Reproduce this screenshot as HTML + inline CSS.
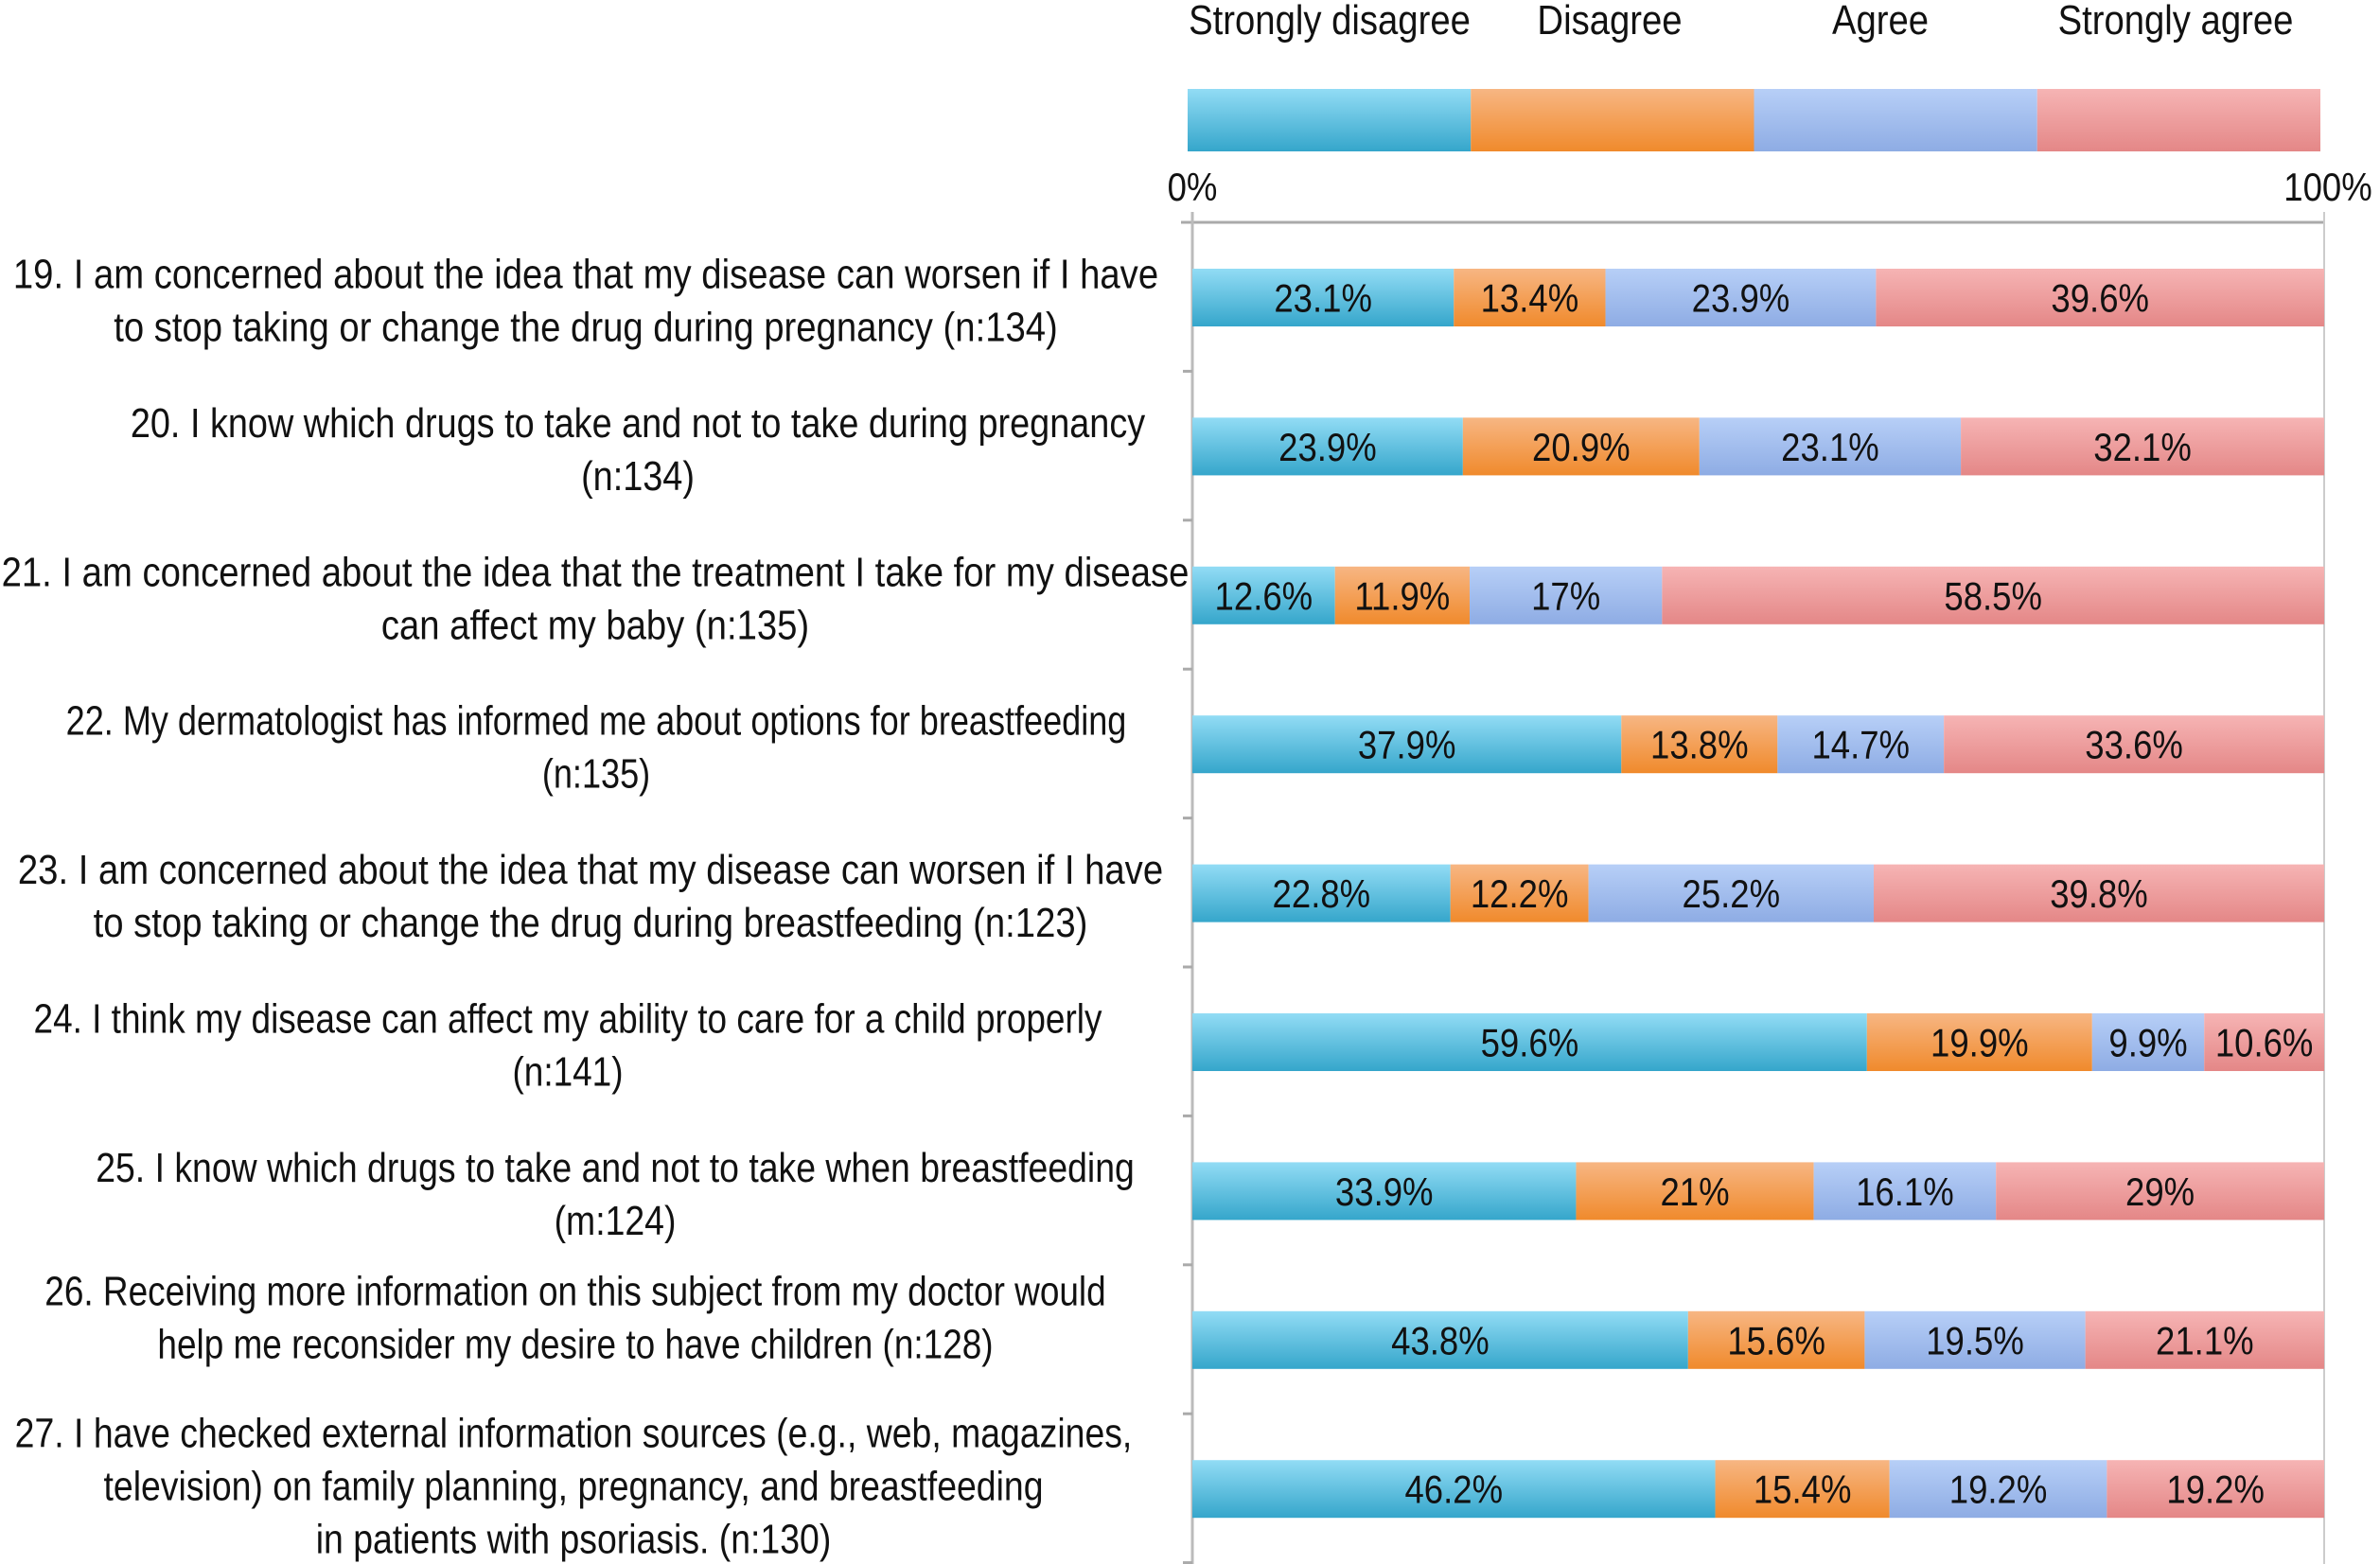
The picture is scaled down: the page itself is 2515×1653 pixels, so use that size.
<!DOCTYPE html>
<html><head><meta charset="utf-8"><style>
html,body{margin:0;padding:0;background:#fff;}
svg{display:block;font-family:"Liberation Sans",Arial,sans-serif;}
</style></head><body>
<svg id="chart" width="2515" height="1653" viewBox="0 0 2515 1653">
<defs>
<linearGradient id="g0" x1="0" y1="0" x2="0" y2="1"><stop offset="0" stop-color="#92dcf5"/><stop offset="1" stop-color="#35a6cb"/></linearGradient>
<linearGradient id="g1" x1="0" y1="0" x2="0" y2="1"><stop offset="0" stop-color="#f7b683"/><stop offset="1" stop-color="#f08a2c"/></linearGradient>
<linearGradient id="g2" x1="0" y1="0" x2="0" y2="1"><stop offset="0" stop-color="#b7cff7"/><stop offset="1" stop-color="#8eace4"/></linearGradient>
<linearGradient id="g3" x1="0" y1="0" x2="0" y2="1"><stop offset="0" stop-color="#f6b4b4"/><stop offset="1" stop-color="#e48787"/></linearGradient>
</defs>
<g id="legend"></g>
<g id="axis"></g>
<g id="bars"></g>
<g id="labels"></g>
</svg>
<script>
const seriesNames = ["Strongly disagree","Disagree","Agree","Strongly agree"];
const stronglyDisagree = [23.1,23.9,12.6,37.9,22.8,59.6,33.9,43.8,46.2];
const disagree = [13.4,20.9,11.9,13.8,12.2,19.9,21,15.6,15.4];
const agree = [23.9,23.1,17,14.7,25.2,9.9,16.1,19.5,19.2];
const stronglyAgree = [39.6,32.1,58.5,33.6,39.8,10.6,29,21.1,19.2];
const categories = [
 ["19. I am concerned about the idea that my disease can worsen if I have","to stop taking or change the drug during pregnancy (n:134)"],
 ["20. I know which drugs to take and not to take during pregnancy","(n:134)"],
 ["21. I am concerned about the idea that the treatment I take for my disease","can affect my baby (n:135)"],
 ["22. My dermatologist has informed me about options for breastfeeding","(n:135)"],
 ["23. I am concerned about the idea that my disease can worsen if I have","to stop taking or change the drug during breastfeeding (n:123)"],
 ["24. I think my disease can affect my ability to care for a child properly","(n:141)"],
 ["25. I know which drugs to take and not to take when breastfeeding","(m:124)"],
 ["26. Receiving more information on this subject from my doctor would","help me reconsider my desire to have children (n:128)"],
 ["27. I have checked external information sources (e.g., web, magazines,","television) on family planning, pregnancy, and breastfeeding","in patients with psoriasis. (n:130)"]
];
const tickLabels = ["0%","100%"];

// layout-only (not data)
const labelCx = [619,674,629,630,624,600,650,608,606];
const labelDy = [0,0,0,0,0,0,0,-27,-6];
const labelScale = [0.87,0.86,0.87,0.82,0.87,0.84,0.85,0.84,0.85];

const NS="http://www.w3.org/2000/svg";
const X0=1260, X1=2456, TOP=284, STEP=157.4, BH=61;
const xs = v => X0 + (X1-X0)*v/100;
const rowY = i => TOP + i*STEP;
function mk(tag, attrs, parent){const e=document.createElementNS(NS,tag);for(const k in attrs)e.setAttribute(k,attrs[k]);parent.appendChild(e);return e;}
function txt(parent,x,y,s,size,sc){
  const t=mk('text',{x:0,y:0,'font-size':size,'text-anchor':'middle',fill:'#111',transform:`translate(${x},${y}) scale(${sc||0.87},1)`},parent);
  t.textContent=s;return t;
}
const fills=["url(#g0)","url(#g1)","url(#g2)","url(#g3)"];
const legend=document.getElementById('legend'), axis=document.getElementById('axis'), bars=document.getElementById('bars'), labels=document.getElementById('labels');

// legend
const lx0=1255, lx1=2452;
const centers=[1405,1701,1987,2299];
seriesNames.forEach((n,k)=>{
  const w=(lx1-lx0)/4;
  const r=mk('rect',{x:lx0+k*w,y:94,width:w,height:66,fill:fills[k]},legend);
  
  
  const t=txt(legend,centers[k],36,n,44);
  
  
});

// axis
const al=mk('line',{x1:X0-12,y1:235,x2:X1,y2:235,stroke:'#aaa','stroke-width':3},axis);


const vl=mk('line',{x1:X0,y1:224,x2:X0,y2:1653,stroke:'#bbb','stroke-width':3},axis);


const rl=mk('line',{x1:X1,y1:224,x2:X1,y2:1653,stroke:'#ccc','stroke-width':2},axis);


for(let k=1;k<=categories.length;k++){
  const tk=mk('line',{x1:X0-10,y1:235+k*STEP,x2:X0,y2:235+k*STEP,stroke:'#aaa','stroke-width':3},axis);
  
  
}
[0,100].forEach((v,k)=>{
  const t=txt(axis,xs(v)+(k?4:0),212,tickLabels[k],42);
  
  
});

// bars
const series=[stronglyDisagree,disagree,agree,stronglyAgree];
categories.forEach((c,i)=>{
  let acc=0;
  const y=rowY(i);
  series.forEach((s,k)=>{
    const v=s[i];
    const r=mk('rect',{x:xs(acc),y:y,width:xs(acc+v)-xs(acc),height:BH,fill:fills[k]},bars);
    
    
    const t=txt(bars,(xs(acc)+xs(acc+v))/2,y+BH/2+15,v+'%',42);
    
    
    acc+=v;
  });
  const cy=y+BH/2+labelDy[i]+3;
  const n=c.length;
  c.forEach((line,j)=>{
    const ly=cy+(j-(n-1)/2)*56+15;
    const t=txt(labels,labelCx[i],ly,line,44,labelScale[i]);
    
    
  });
});
</script>
</body></html>
